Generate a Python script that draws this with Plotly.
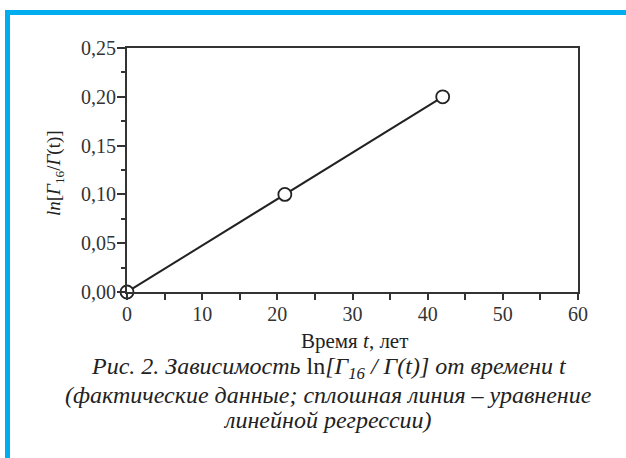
import plotly.graph_objects as go

# Data
t_years = [0, 21, 42]
ln_ratio = [0.0, 0.10, 0.20]
x_ticks = [0, 10, 20, 30, 40, 50, 60]
y_ticks = [0.0, 0.05, 0.10, 0.15, 0.20, 0.25]
y_tick_labels = ["0,00", "0,05", "0,10", "0,15", "0,20", "0,25"]

W, H = 626, 458
L, R, T, B = 127, 48, 48, 166
pw, ph = W - L - R, H - T - B

def px(x):
    return (x - L) / pw

def py(y):
    return (H - B - y) / ph

FONT = "Liberation Serif, Times New Roman, serif"
INK = "#222222"

fig = go.Figure()
fig.add_trace(go.Scatter(
    x=t_years, y=ln_ratio, mode="lines+markers",
    line=dict(color=INK, width=2),
    marker=dict(size=13, color="white", line=dict(color=INK, width=1.8)),
    cliponaxis=False, showlegend=False,
))

axis_common = dict(
    showline=True, linecolor="#333333", linewidth=2, mirror=True,
    ticks="outside", tickcolor="#333333", tickwidth=2,
    showgrid=False, zeroline=False,
    tickfont=dict(family=FONT, size=20, color="#333333"),
)

fig.update_xaxes(
    range=[0, 60], tickvals=x_ticks, ticklen=6, ticklabelstandoff=-3,
    minor=dict(ticks="outside", dtick=5, ticklen=6, tickcolor="#333333", tickwidth=2),
    **axis_common,
)
fig.update_yaxes(
    range=[0, 0.25], tickvals=y_ticks, ticktext=y_tick_labels, ticklen=8,
    ticklabelstandoff=-3,
    minor=dict(ticks="outside", dtick=0.025, ticklen=4, tickcolor="#333333", tickwidth=2),
    **axis_common,
)

annotations = [
    dict(text="<i>ln</i>[<i>Γ</i><sub>16</sub>/<i>Γ</i>(t)]", x=px(55), y=py(173),
         textangle=-90, font=dict(family=FONT, size=19, color=INK)),
    dict(text="Время <i>t</i>, лет", x=px(354), y=py(341),
         font=dict(family=FONT, size=21, color=INK)),
    dict(text="<i>Рис. 2. Зависимость </i>ln<i>[Γ<sub>16</sub> / Γ(t)] от времени t</i>",
         x=px(329), y=py(368), font=dict(family=FONT, size=24, color=INK)),
    dict(text="<i>(фактические данные; сплошная линия – уравнение</i>",
         x=px(328), y=py(395), font=dict(family=FONT, size=24, color=INK)),
    dict(text="<i>линейной регрессии)</i>",
         x=px(327), y=py(420), font=dict(family=FONT, size=24, color=INK)),
]
for a in annotations:
    a.update(xref="paper", yref="paper", showarrow=False, xanchor="center", yanchor="middle")

BLUE = "#00AEEF"
shapes = [
    dict(type="rect", xref="paper", yref="paper", x0=px(5), x1=px(626), y0=py(10), y1=py(15),
         fillcolor=BLUE, line=dict(width=0), layer="below"),
    dict(type="rect", xref="paper", yref="paper", x0=px(5), x1=px(10), y0=py(10), y1=py(458),
         fillcolor=BLUE, line=dict(width=0), layer="below"),
]

fig.update_layout(
    width=W, height=H,
    margin=dict(l=L, r=R, t=T, b=B),
    paper_bgcolor="white", plot_bgcolor="white",
    annotations=annotations, shapes=shapes,
)

fig.write_html("out.html")
